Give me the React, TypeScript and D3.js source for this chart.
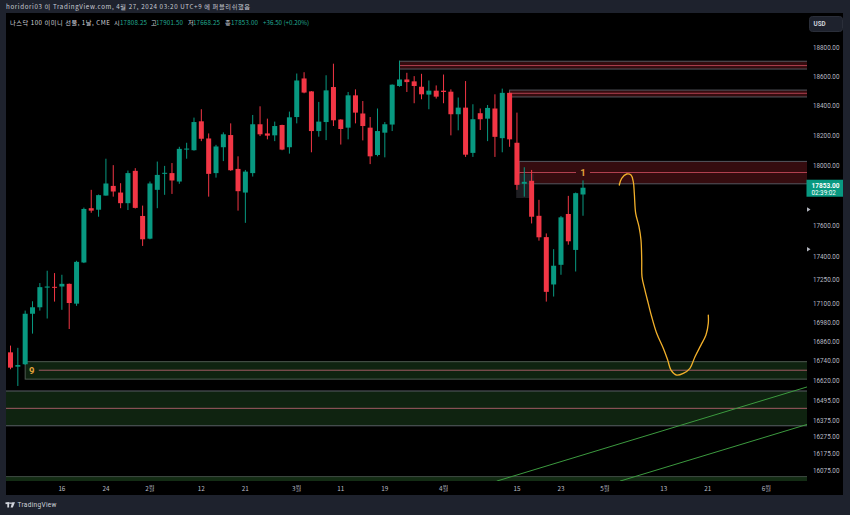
import React, { useEffect, useRef } from 'react';
import * as d3 from 'd3';

// NQ1! daily bars, 2024-01-04 .. 2024-04-26 (one entry per trading day)
const opens = [16796, 16707, 16722, 17038, 17079, 17204, 17209, 17211, 17228, 17102, 17365, 17718, 17708, 17801, 17865, 17821, 17751, 17965, 17667, 17519,
  17839, 17945, 17950, 17894, 18107, 18103, 18298, 18182, 17950, 18123, 18205, 17978, 17821, 17950, 18278, 18216, 18203, 18273, 18123, 18327,
  18591, 18502, 18232, 18293, 18532, 18310, 18255, 18475, 18351, 18255, 18071, 18221, 18276, 18539, 18584, 18571, 18534, 18480, 18507, 18507,
  18500, 18346, 18391, 18085, 18353, 18316, 18385, 18184, 18492, 18153, 17879, 17899, 17668, 17529, 17224, 17350, 17680, 17446, 17808.25];
const highs = [16838, 16824, 17058, 17117, 17233, 17312, 17297, 17286, 17230, 17376, 17722, 17839, 17808, 18046, 18003, 17883, 17967, 17983, 17735, 17894,
  18027, 17998, 18017, 18126, 18153, 18323, 18380, 18216, 18139, 18223, 18284, 18062, 17971, 18341, 18400, 18316, 18296, 18275, 18364, 18625,
  18634, 18504, 18430, 18613, 18693, 18312, 18498, 18516, 18436, 18327, 18385, 18293, 18550, 18714, 18630, 18607, 18623, 18577, 18543, 18618,
  18516, 18460, 18573, 18414, 18385, 18409, 18482, 18521, 18494, 18357, 17989, 17971, 17773, 17553, 17451, 17667, 17799, 17821, 17901.5];
const lows = [16691, 16588, 16718, 16913, 17058, 17008, 17115, 17063, 16942, 17088, 17361, 17688, 17662, 17801, 17794, 17718, 17706, 17716, 17472, 17515,
  17718, 17806, 17812, 17879, 18046, 18100, 18164, 17794, 17920, 18030, 17965, 17702, 17622, 17927, 18198, 18176, 18164, 18103, 18080, 18284,
  18489, 18089, 18194, 18171, 18266, 18141, 18176, 18284, 18169, 18010, 18062, 18055, 18232, 18534, 18498, 18421, 18448, 18380, 18453, 18421,
  18203, 18237, 18058, 18058, 18239, 18164, 18058, 18089, 18126, 17839, 17794, 17618, 17506, 17115, 17147, 17286, 17480, 17307, 17668.25];
const closes = [16701, 16717, 17038, 17079, 17207, 17211, 17204, 17228, 17106, 17369, 17713, 17702, 17804, 17881, 17828, 17751, 17950, 17720, 17515, 17881,
  17938, 17952, 17901, 18112, 18114, 18293, 18180, 17945, 18128, 18210, 17969, 17830, 17960, 18278, 18210, 18201, 18266, 18107, 18325, 18577,
  18494, 18232, 18296, 18509, 18305, 18246, 18475, 18357, 18266, 18062, 18232, 18278, 18548, 18584, 18566, 18539, 18482, 18507, 18466, 18498,
  18346, 18391, 18073, 18312, 18312, 18389, 18193, 18492, 18176, 17872, 17892, 17662, 17528, 17177, 17344, 17658, 17502, 17817, 17853];

const priceTicks = [18800, 18600, 18400, 18200, 18000, 17600, 17400, 17250, 17100, 16980, 16860, 16740, 16620, 16495, 16375, 16275, 16175, 16075];
const dateTicks = ['16', '24', '2월', '12', '21', '3월', '11', '19', '4월', '15', '23', '5월', '13', '21', '6월'];
const dateTickBars = [7, 13, 19, 26, 32, 39, 45, 51, 59, 69, 75, 81, 89, 95, 103];

// boxes drawn on the chart: start bar, low, mid, high
const redZones = [[53, 18656, 18680, 18710], [68, 18464, 18489, 18511], [69.3, 17879, 17954, 18028]];
const greenZones = [[2, 16630, 16685, 16738], [-2, 16345, 16451, 16557]];
const baseZone = [-2, 16012, 16040];
const zoneLabels = [{ text: '1', bar: 78, price: 17954 }, { text: '9', bar: 2.9, price: 16685 }];

// channel lines [bar, price]
const trendLines = [
  [[66.24, 16013], [108.6, 16583]],
  [[83.04, 16013], [108.6, 16354]],
];

// freehand projection
const pathBars = [82.94, 83.27, 83.95, 84.54, 84.85, 84.99, 85.18, 85.63, 85.9, 86.0, 86.04, 86.44, 86.89, 87.36, 88.04, 88.94, 89.54, 89.99, 90.76, 91.66, 92.57, 93.26, 94.07, 94.75, 95.07, 95.07];
const pathPrices = [17871, 17915, 17944, 17937, 17893, 17816, 17684, 17597, 17510, 17381, 17273, 17188, 17104, 17019, 16915, 16821, 16748, 16686, 16655, 16666, 16697, 16769, 16841, 16904, 16977, 17030];

const markerPrices = [17709, 17450];

const KR = '"Noto Sans CJK KR", "Noto Sans", sans-serif';
const NUM = 'Roboto, "Noto Sans", sans-serif';
const UP = '#089981';
const DOWN = '#f23645';

const App = () => {
  const ref = useRef<SVGSVGElement>(null);

  useEffect(() => {
    const svg = d3.select(ref.current);
    svg.selectAll('*').remove();

    const plot = { left: 6, right: 807, top: 13, bottom: 481 };
    const x = d3.scaleLinear().domain([0, 78]).range([10.5, 583]);
    const y = d3.scaleLog().domain([16075, 18800]).range([470.7, 48.3]);

    // frame + black canvas
    svg.append('rect').attr('width', 850).attr('height', 515).attr('fill', '#1e222d');
    svg.append('rect').attr('x', 6).attr('y', 13).attr('width', 837).attr('height', 482).attr('fill', '#000');

    // header
    svg.append('text').attr('x', 6).attr('y', 9.4).attr('font-family', KR).attr('font-size', 6.2)
      .attr('fill', '#c9ccd4').attr('textLength', 244)
      .text('horidori03 이 TradingView.com, 4월 27, 2024 03:20 UTC+9 에 퍼블리쉬했음');

    const head = svg.append('text').attr('y', 25.4).attr('font-family', KR).attr('font-size', 6.2);
    head.append('tspan').attr('x', 10).attr('fill', '#d1d4dc').attr('textLength', 100).text('나스닥 100 이미니 선물, 1날, CME');
    const ohlc = [['시', 114, '17808.25', 120], ['고', 151, '17901.50', 156], ['저', 188, '17668.25', 193], ['종', 225, '17853.00', 231]];
    ohlc.forEach(([k, kx, v, vx]) => {
      head.append('tspan').attr('x', kx).attr('fill', '#d1d4dc').text(k as string);
      head.append('tspan').attr('x', vx).attr('fill', '#22ab94').attr('textLength', 27).text(v as string);
    });
    head.append('tspan').attr('x', 263).attr('fill', '#22ab94').attr('textLength', 46).text('+36.50 (+0.20%)');

    // plot clip
    svg.append('clipPath').attr('id', 'plotClip').append('rect')
      .attr('x', plot.left).attr('y', plot.top).attr('width', plot.right - plot.left).attr('height', plot.bottom - plot.top);
    const g = svg.append('g').attr('clip-path', 'url(#plotClip)');

    const drawZone = (z: number[], fill: string, border: string, mid: string, label?: { text: string; bar: number }) => {
      const [start, lo, m, hi] = z;
      const x0 = x(start);
      g.append('rect').attr('x', x0).attr('y', y(hi)).attr('width', plot.right + 10 - x0).attr('height', y(lo) - y(hi))
        .attr('fill', fill).attr('stroke', border).attr('stroke-width', 1);
      const ym = y(m);
      if (label) {
        const lx = x(label.bar);
        if (lx - 7 > x0) g.append('line').attr('x1', x0).attr('x2', lx - 7).attr('y1', ym).attr('y2', ym).attr('stroke', mid);
        g.append('line').attr('x1', lx + 7).attr('x2', plot.right).attr('y1', ym).attr('y2', ym).attr('stroke', mid);
      } else {
        g.append('line').attr('x1', x0).attr('x2', plot.right).attr('y1', ym).attr('y2', ym).attr('stroke', mid);
      }
    };

    greenZones.forEach((z, i) => drawZone(z, 'rgba(76,175,80,0.2)', i === 0 ? '#4f5b52' : '#5a5e66', '#a05a63',
      i === 0 ? zoneLabels[1] : undefined));
    redZones.forEach((z, i) => drawZone(z, 'rgba(242,54,69,0.22)', '#55575f', '#b0404f',
      i === 2 ? zoneLabels[0] : undefined));

    // thin base band
    g.append('rect').attr('x', x(baseZone[0])).attr('y', y(baseZone[2])).attr('width', plot.right - x(baseZone[0]))
      .attr('height', y(baseZone[1]) - y(baseZone[2])).attr('fill', 'rgba(76,175,80,0.25)');
    g.append('line').attr('x1', plot.left).attr('x2', plot.right).attr('y1', y(baseZone[2])).attr('y2', y(baseZone[2]))
      .attr('stroke', '#3f4a44');

    // highlight box near the gap down
    g.append('rect').attr('x', x(68.9)).attr('y', y(17944)).attr('width', x(71.3) - x(68.9)).attr('height', y(17785) - y(17944))
      .attr('fill', '#26262a').attr('opacity', 0.8);

    // channel lines
    trendLines.forEach((ln) => {
      g.append('line').attr('x1', x(ln[0][0])).attr('y1', y(ln[0][1])).attr('x2', x(ln[1][0])).attr('y2', y(ln[1][1]))
        .attr('stroke', '#3c9a3f').attr('stroke-width', 1);
    });

    // candles
    const bars = d3.range(opens.length);
    g.selectAll('.wick').data(bars).join('line').attr('class', 'wick')
      .attr('x1', (i) => x(i)).attr('x2', (i) => x(i))
      .attr('y1', (i) => y(highs[i])).attr('y2', (i) => y(lows[i]))
      .attr('stroke', (i) => (closes[i] >= opens[i] ? UP : DOWN)).attr('stroke-width', 1);
    g.selectAll('.body').data(bars).join('rect').attr('class', 'body')
      .attr('x', (i) => x(i) - 2.5).attr('width', 5)
      .attr('y', (i) => y(Math.max(opens[i], closes[i])))
      .attr('height', (i) => Math.max(1, Math.abs(y(opens[i]) - y(closes[i]))))
      .attr('fill', (i) => (closes[i] >= opens[i] ? UP : DOWN));

    // freehand line
    const line = d3.line<number>().x((i) => x(pathBars[i])).y((i) => y(pathPrices[i])).curve(d3.curveCatmullRom.alpha(0.5));
    g.append('path').attr('d', line(d3.range(pathBars.length))).attr('fill', 'none')
      .attr('stroke', '#f2b02a').attr('stroke-width', 1.3).attr('stroke-linecap', 'round');

    zoneLabels.forEach((l) => {
      g.append('text').attr('x', x(l.bar)).attr('y', y(l.price)).attr('text-anchor', 'middle').attr('dominant-baseline', 'central')
        .attr('font-family', NUM).attr('font-size', 9.5).attr('font-weight', 'bold').attr('fill', '#e3a33b').text(l.text);
    });

    // price axis
    svg.append('g').selectAll('text').data(priceTicks).join('text')
      .attr('x', 813).attr('y', (d) => y(d)).attr('dominant-baseline', 'central')
      .attr('font-family', NUM).attr('font-size', 6.3).attr('fill', '#b8bbc4')
      .text((d) => d.toFixed(2));

    const last = closes[closes.length - 1];
    svg.append('rect').attr('x', 806.5).attr('y', y(last) - 8).attr('width', 36.5).attr('height', 17).attr('fill', UP);
    svg.append('text').attr('x', 811.5).attr('y', y(last) - 1.7).attr('dominant-baseline', 'central')
      .attr('font-family', NUM).attr('font-size', 6.5).attr('font-weight', 'bold').attr('fill', '#fff').text(last.toFixed(2));
    svg.append('text').attr('x', 811.5).attr('y', y(last) + 5.2).attr('dominant-baseline', 'central')
      .attr('font-family', NUM).attr('font-size', 6.3).attr('fill', '#fff').text('02:39:02');

    markerPrices.forEach((p) => {
      const py = y(p);
      svg.append('path').attr('d', `M807,${py - 2.2}L810.5,${py}L807,${py + 2.2}Z`).attr('fill', '#b2b5be');
    });

    // time axis
    svg.append('g').selectAll('text').data(dateTicks).join('text')
      .attr('x', (d, i) => x(dateTickBars[i])).attr('y', 488.5).attr('text-anchor', 'middle').attr('dominant-baseline', 'central')
      .attr('font-family', KR).attr('font-size', 6.3).attr('fill', '#b8bbc4')
      .text((d) => d);

    // currency button
    svg.append('rect').attr('x', 809.5).attr('y', 16.5).attr('width', 33).attr('height', 15).attr('rx', 3)
      .attr('fill', '#1e222d').attr('stroke', '#2a2e39');
    svg.append('text').attr('x', 813.5).attr('y', 24.3).attr('dominant-baseline', 'central')
      .attr('font-family', NUM).attr('font-size', 6.3).attr('font-weight', 'bold').attr('fill', '#d1d4dc').text('USD');

    // footer logo
    const logo = svg.append('g').attr('fill', '#d1d4dc');
    logo.append('rect').attr('x', 5.5).attr('y', 502.3).attr('width', 4.2).attr('height', 1.8);
    logo.append('rect').attr('x', 7.3).attr('y', 502.3).attr('width', 1.8).attr('height', 5.2);
    logo.append('circle').attr('cx', 11).attr('cy', 503.2).attr('r', 0.9);
    logo.append('path').attr('d', 'M12.2,502.3L15,502.3L12.8,507.5L10.6,507.5Z');
    svg.append('text').attr('x', 17.5).attr('y', 505.2).attr('dominant-baseline', 'central')
      .attr('font-family', NUM).attr('font-size', 6.5).attr('fill', '#d1d4dc').attr('textLength', 39).text('TradingView');
  }, []);

  return <svg ref={ref} width={850} height={515} style={{ position: 'absolute', left: 0, top: 0, display: 'block' }} />;
};

export default App;
